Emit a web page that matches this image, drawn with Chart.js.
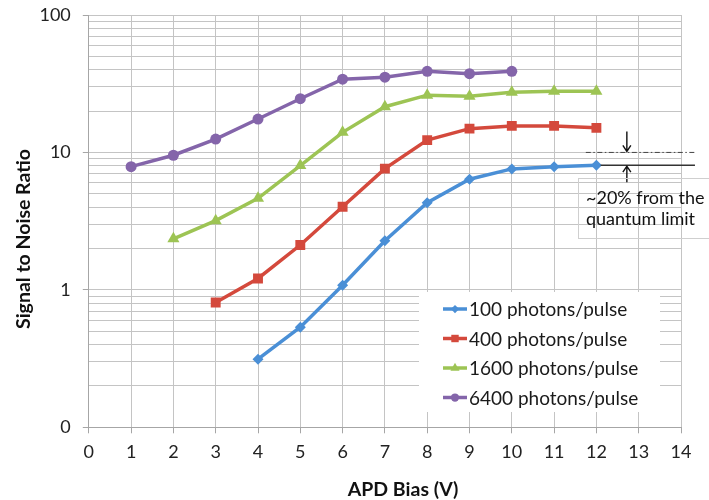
<!DOCTYPE html>
<html>
<head>
<meta charset="utf-8">
<title>APD Bias vs SNR</title>
<script src="https://cdn.jsdelivr.net/npm/chart.js@4.4.1/dist/chart.umd.min.js"></script>
<style>
  html, body { margin: 0; padding: 0; background: #fff; }
  #chartjs { display: block; }
</style>
</head>
<body>
<canvas id="chartjs" width="709" height="500"></canvas>
<script>
// data
const biasV = [1, 2, 3, 4, 5, 6, 7, 8, 9, 10, 11, 12];
const snr100 = [null, null, null, 0.313, 0.535, 1.08, 2.28, 4.31, 6.38, 7.59, 7.88, 8.07];
const snr400 = [null, null, 0.81, 1.21, 2.12, 4.03, 7.62, 12.3, 14.9, 15.6, 15.6, 15.1];
const snr1600 = [null, 2.35, 3.19, 4.64, 8.02, 14.0, 21.5, 26.1, 25.6, 27.4, 27.9, 27.9];
const snr6400 = [7.88, 9.54, 12.5, 17.5, 24.6, 34.1, 35.3, 38.9, 37.4, 38.9, null, null];
const seriesNames = ['100 photons/pulse', '400 photons/pulse', '1600 photons/pulse', '6400 photons/pulse'];

const yMajorValues = [0.1, 1, 10, 100];
const yMajorLabels = ['0', '1', '10', '100'];
const quantumLimit = 10;
const noteLines = ['~20% from the', 'quantum limit'];

const FONT = 'Lato, "Open Sans", sans-serif';

function toPoints(ys) {
  return biasV.map((x, i) => ({ x: x, y: ys[i] })).filter(p => p.y !== null);
}

// gridline values for a log axis: 1..9 of each decade
function logTicks(min, max) {
  const out = [];
  for (let d = min; d < max; d *= 10) {
    for (let k = 1; k < 10; ++ k) {
      out.push(+(k * d).toPrecision(3));
    }
  }
  out.push(max);
  return out;
}

const styles = [
  { color: '#4a8fd6', point: 'rectRot', radius: 5.5 },
  { color: '#d4493c', point: 'rect', radius: 7 },
  { color: '#9dc454', point: 'triangle', radius: 7 },
  { color: '#8465aa', point: 'circle', radius: 5.5 }
];
const allSeries = [snr100, snr400, snr1600, snr6400];

const datasets = allSeries.map((ys, i) => ({
  label: seriesNames[i],
  data: toPoints(ys),
  borderColor: styles[i].color,
  backgroundColor: styles[i].color,
  borderWidth: 3.5,
  pointStyle: styles[i].point,
  pointRadius: styles[i].radius,
  pointBorderWidth: 0,
  pointHoverRadius: styles[i].radius,
  tension: 0
}));

/*
** legend inside plot + note + axis titles
*/
const extras = {
  id: 'extras',
  beforeDraw(chart) {
    const ctx = chart.ctx;
    ctx.save();
    ctx.fillStyle = '#fff';
    ctx.fillRect(0, 0, chart.width, chart.height);
    ctx.restore();
  },
  afterDraw(chart) {
    const ctx = chart.ctx;
    const xs = chart.scales.x;
    const ys = chart.scales.y;
    ctx.save();

    // legend
    ctx.fillStyle = '#fff';
    ctx.fillRect(419, 292, 241, 120);
    ctx.font = '19px ' + FONT;
    ctx.textBaseline = 'middle';
    ctx.textAlign = 'left';
    let posY = 309;
    seriesNames.forEach((name, i) => {
      ctx.strokeStyle = styles[i].color;
      ctx.fillStyle = styles[i].color;
      ctx.lineWidth = 3.5;
      ctx.beginPath();
      ctx.moveTo(443, posY);
      ctx.lineTo(467, posY);
      ctx.stroke();
      Chart.helpers.drawPoint(ctx, {
        pointStyle: styles[i].point,
        radius: styles[i].radius * 0.75,
        rotation: 0,
        borderWidth: 0
      }, 455, posY);
      ctx.fillStyle = '#1a1a1a';
      ctx.fillText(name, 469, posY + 1);
      posY += 29.5;
    });

    // quantum limit note
    const yLim = ys.getPixelForValue(quantumLimit);
    const yEnd = ys.getPixelForValue(snr100[snr100.length - 1]);
    const xArrow = xs.getPixelForValue(12.72);
    ctx.lineWidth = 1;
    ctx.strokeStyle = '#444';
    ctx.setLineDash([5, 2.5, 1.5, 2.5]);
    ctx.beginPath();
    ctx.moveTo(xs.getPixelForValue(11.75), yLim);
    ctx.lineTo(xs.getPixelForValue(14.33), yLim);
    ctx.stroke();
    ctx.setLineDash([]);
    ctx.strokeStyle = '#333';
    ctx.lineWidth = 1.3;
    ctx.beginPath();
    ctx.moveTo(xs.getPixelForValue(12.1), yEnd);
    ctx.lineTo(xs.getPixelForValue(14.33), yEnd);
    ctx.stroke();

    ctx.strokeStyle = '#111';
    ctx.lineWidth = 1.4;
    ctx.beginPath();
    ctx.moveTo(xArrow, yLim - 21);
    ctx.lineTo(xArrow, yLim - 1);
    ctx.moveTo(xArrow - 4, yLim - 7);
    ctx.lineTo(xArrow, yLim - 1);
    ctx.lineTo(xArrow + 4, yLim - 7);
    ctx.moveTo(xArrow, yEnd + 17);
    ctx.lineTo(xArrow, yEnd + 1);
    ctx.moveTo(xArrow - 4, yEnd + 7);
    ctx.lineTo(xArrow, yEnd + 1);
    ctx.lineTo(xArrow + 4, yEnd + 7);
    ctx.stroke();

    ctx.strokeStyle = '#cfcfcf';
    ctx.lineWidth = 1;
    ctx.strokeRect(578.5, 178.5, 140, 60);
    ctx.fillStyle = '#111';
    ctx.font = '18px ' + FONT;
    ctx.textBaseline = 'alphabetic';
    ctx.fillText(noteLines[0], 586, 203.5);
    ctx.fillText(noteLines[1], 586, 225);

    // axis titles
    ctx.font = 'bold 19.5px ' + FONT;
    ctx.fillStyle = '#111';
    ctx.textAlign = 'center';
    ctx.fillText('APD Bias (V)', 403, 496);
    ctx.translate(30, 239);
    ctx.rotate(-Math.PI / 2);
    ctx.fillText('Signal to Noise Ratio', 0, 0);

    ctx.restore();
  }
};

new Chart(document.getElementById('chartjs').getContext('2d'), {
  type: 'line',
  data: { datasets: datasets },
  options: {
    responsive: false,
    animation: false,
    layout: { padding: { top: 15, right: 28, left: 0, bottom: 0 } },
    plugins: {
      legend: { display: false },
      tooltip: { enabled: false }
    },
    scales: {
      x: {
        type: 'linear',
        min: 0,
        max: 14,
        ticks: { stepSize: 1, color: '#222', font: { family: FONT, size: 18 }, padding: 8 },
        grid: { color: '#c4c4c4', tickLength: 6, tickColor: '#a6a6a6' },
        border: { color: '#a6a6a6' },
        afterFit(scale) { scale.height = 72.7; }
      },
      y: {
        type: 'logarithmic',
        min: 0.1,
        max: 100,
        afterBuildTicks(scale) {
          scale.ticks = logTicks(0.1, 100).map(v => ({ value: v }));
        },
        ticks: {
          autoSkip: false,
          color: '#222',
          font: { family: FONT, size: 18 },
          padding: 12,
          callback(value) {
            const idx = yMajorValues.findIndex(v => Math.abs(v - value) < 1e-9);
            return idx >= 0 ? yMajorLabels[idx] : '';
          }
        },
        grid: {
          color: '#c4c4c4',
          tickLength: 6,
          tickColor(c) {
            const v = c.tick ? c.tick.value : 0;
            return yMajorValues.some(m => Math.abs(m - v) < 1e-9) ? '#a6a6a6' : 'rgba(0,0,0,0)';
          }
        },
        border: { color: '#a6a6a6' },
        afterFit(scale) {
          scale.width = 88.8;
          scale.paddingTop = 0;
          scale.paddingBottom = 0;
        }
      }
    }
  },
  plugins: [extras]
});
</script>
</body>
</html>
